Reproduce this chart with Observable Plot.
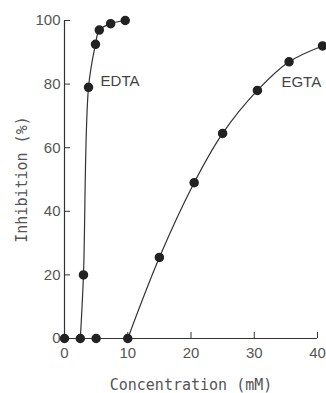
<!DOCTYPE html>
<html><head><meta charset="utf-8">
<script src="https://cdn.jsdelivr.net/npm/d3@7"></script>
<script src="https://cdn.jsdelivr.net/npm/@observablehq/plot@0.6"></script>
<style>
body{margin:0;background:#fff;}
svg{background:#fff;}
[aria-label="y-axis label"] text,[aria-label="x-axis label"] text{font-family:"DejaVu Sans Mono",monospace;font-size:15px;}
</style>
</head><body><div id="chart"></div>
<script>
const xTicks = [0, 10, 20, 30, 40];
const yTicks = [0, 20, 40, 60, 80, 100];

const edtaConc = [2.5, 3, 3.8, 4.9, 5.5, 7.3, 9.6];
const edtaInhib = [0, 20, 79, 92.5, 97, 99, 100];

const egtaConc = [10, 15, 20.5, 25, 30.5, 35.5, 40.8];
const egtaInhib = [0, 25.5, 49, 64.5, 78, 87, 92];

const extraConc = [0, 5];
const extraInhib = [0, 0];

const labelNames = ["EDTA", "EGTA"];
const labelConc = [5.7, 34.3];
const labelInhib = [81, 80.5];

const edta = edtaConc.map((c, i) => ({c, v: edtaInhib[i]}));
const egta = egtaConc.map((c, i) => ({c, v: egtaInhib[i]}));
const extra = extraConc.map((c, i) => ({c, v: extraInhib[i]}));
const labels = labelNames.map((n, i) => ({n, c: labelConc[i], v: labelInhib[i]}));
const allPts = [...extra, ...edta, ...egta];

const chart = Plot.plot({
  width: 326, height: 393,
  marginLeft: 64, marginRight: 9, marginTop: 20, marginBottom: 55,
  style: {fontFamily: "'Liberation Sans Narrow','Liberation Sans',sans-serif", fontSize: "15px", color: "#444", background: "#fff"},
  x: {domain: [0, 40]},
  y: {domain: [0, 100]},
  marks: [
    Plot.ruleX([0], {y1: 0, y2: 100, stroke: "#333", strokeWidth: 1.2}),
    Plot.ruleY([0], {x1: 0, x2: 40, stroke: "#333", strokeWidth: 1.2}),
    Plot.axisY(yTicks, {tickSize: -6, tickPadding: 10, stroke: "#333", fill: "#555", label: "Inhibition (%)", labelAnchor: "center", labelArrow: "none", labelOffset: 48}),
    Plot.axisX(xTicks, {tickSize: -6, tickPadding: 15, stroke: "#333", fill: "#555", label: "Concentration (mM)", labelAnchor: "center", labelArrow: "none", labelOffset: 51}),
    Plot.line(edta, {x: "c", y: "v", curve: "catmull-rom", stroke: "#333", strokeWidth: 1.2}),
    Plot.line(egta, {x: "c", y: "v", curve: "catmull-rom", stroke: "#333", strokeWidth: 1.2}),
    Plot.dot(allPts, {x: "c", y: "v", r: 4, fill: "#222", stroke: "#222"}),
    Plot.text(labels, {x: "c", y: "v", text: "n", textAnchor: "start", fill: "#444", fontFamily: "'Liberation Sans Narrow','Liberation Sans',sans-serif", fontSize: 15})
  ]
});
document.getElementById("chart").appendChild(chart);
</script>
</body></html>
